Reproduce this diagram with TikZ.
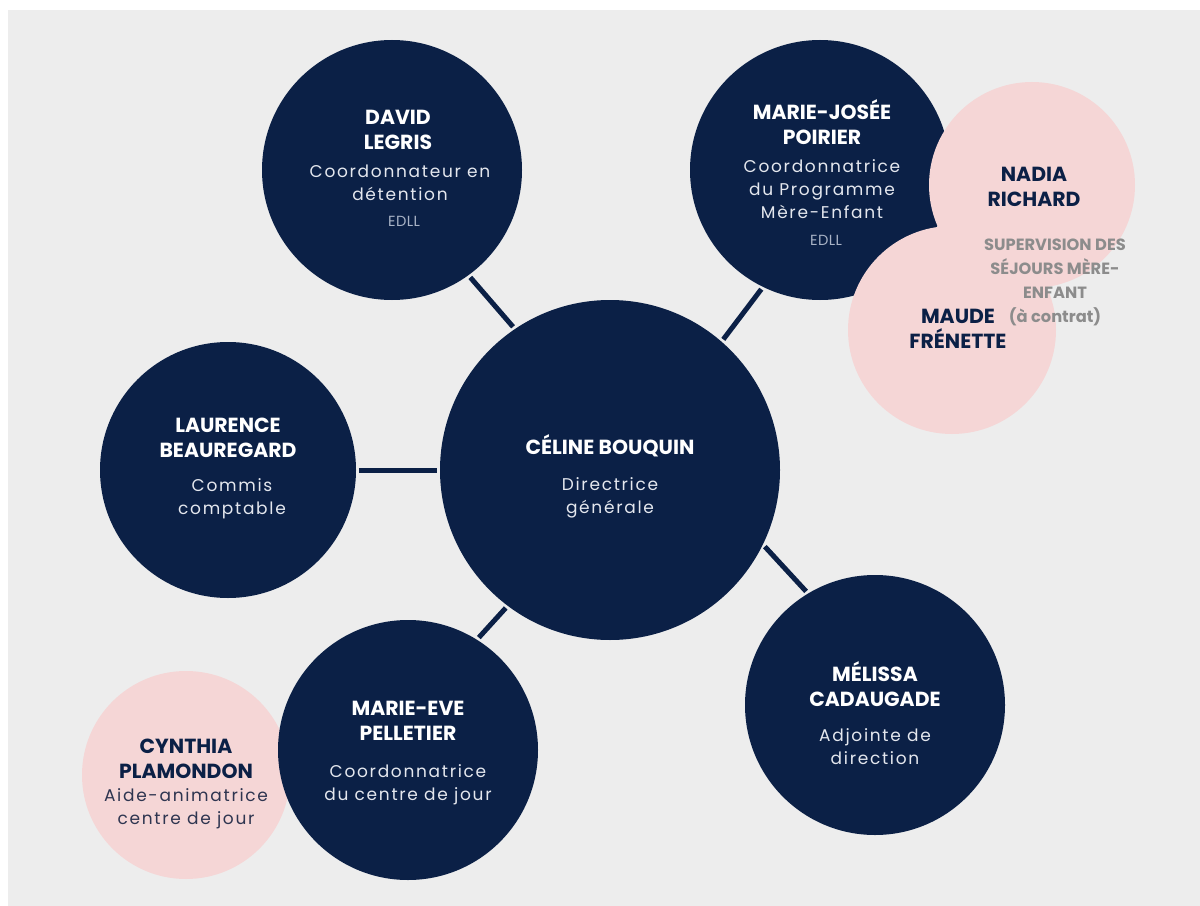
\documentclass[tikz,border=0pt]{standalone}
\usepackage{fontspec}
\setmainfont{Poppins}
\newfontfamily\rolefont[LetterSpace=10]{Poppins}
\newfontfamily\orgfont[LetterSpace=3]{Poppins}
\definecolor{navy}{HTML}{0B2046}
\definecolor{blush}{HTML}{F5D6D6}
\definecolor{paper}{HTML}{EDEDED}
\definecolor{roletext}{HTML}{E4E7EE}
\definecolor{orgtext}{HTML}{A9B3C6}
\definecolor{notegrey}{HTML}{8C8C8C}
\definecolor{pinkrole}{HTML}{2E3550}
\begin{document}
\begin{tikzpicture}[x=0.75pt,y=-0.75pt,
  navydisc/.style={circle,fill=navy,inner sep=0pt,minimum size=#1*1.5pt},
  pinkdisc/.style={circle,fill=blush,inner sep=0pt,minimum size=#1*1.5pt},
  namelight/.style={align=center,text=white,inner sep=0pt,font=\bfseries\fontsize{15.3}{18.75}\selectfont},
  namedark/.style={align=center,text=navy,inner sep=0pt,font=\bfseries\fontsize{15.3}{18.75}\selectfont},
  rolelight/.style={align=center,text=roletext,inner sep=0pt,font=\rolefont\fontsize{12.75}{17.25}\selectfont},
  roledark/.style={align=center,text=pinkrole,inner sep=0pt,font=\rolefont\fontsize{12.75}{17.25}\selectfont},
  org/.style={align=center,text=orgtext,inner sep=0pt,font=\orgfont\fontsize{11}{12}\selectfont},
  note/.style={align=center,text=notegrey,inner sep=0pt,font=\bfseries\fontsize{12.2}{18}\selectfont},
  link/.style={draw=navy,line width=3.75pt,shorten <=2pt,shorten >=2pt}]
\useasboundingbox (0,0) rectangle (1200,906);
\fill[white] (0,0) rectangle (1200,906);
\fill[paper] (8,10) rectangle (1200,906);

% discs
\node[navydisc=170] (ceo) at (610,470) {};
\node[navydisc=130] (david) at (392,170) {};
\node[navydisc=130] (mj) at (820,170) {};
\node[pinkdisc=103] (nadia) at (1032,185) {};
\node[pinkdisc=104] (maude) at (952,330) {};
\node[navydisc=128] (laur) at (228,470) {};
\node[pinkdisc=104] (cyn) at (186,775) {};
\node[navydisc=130] (me) at (408,750) {};
\node[navydisc=130] (mel) at (875,705) {};

% connectors
\draw[link] (david.-54.5) -- (ceo.124.7);
\draw[link] (mj.244.6) -- (ceo.49.9);
\draw[link] (laur.east) -- (ceo.west);
\draw[link] (me.58.6) -- (ceo.233.3);
\draw[link] (mel.121.8) -- (ceo.-26.7);

% texts
\node[namelight] (ceo-name) at (610,446) {CÉLINE BOUQUIN};
\node[rolelight] (ceo-role) at (610,498) {Directrice\\générale};

\node[namelight] (david-name) at (398,129.5) {DAVID\\LEGRIS};
\node[rolelight] (david-role) at (400,182.5) {Coordonnateur en\\détention};
\node[org] (david-org) at (404,221) {EDLL};

\node[namelight] (mj-name) at (822,122.5) {MARIE-JOSÉE\\POIRIER};
\node[rolelight] (mj-role) at (822,189) {Coordonnatrice\\du Programme\\Mère-Enfant};
\node[org] (mj-org) at (826,240) {EDLL};

\node[namedark] (nadia-name) at (1034,186.5) {NADIA\\RICHARD};
\node[namedark] (maude-name) at (958,328.5) {MAUDE\\FRÉNETTE};
\node[note] (sup-note) at (1055,282) {SUPERVISION DES\\SÉJOURS MÈRE-\\ENFANT\\(à contrat)};

\node[namelight] (laur-name) at (228,438) {LAURENCE\\BEAUREGARD};
\node[rolelight] (laur-role) at (232,498.5) {Commis\\comptable};

\node[namelight] (me-name) at (408,720.5) {MARIE-EVE\\PELLETIER};
\node[rolelight] (me-role) at (408,784.5) {Coordonnatrice\\du centre de jour};

\node[namedark] (cyn-name) at (186,758.5) {CYNTHIA\\PLAMONDON};
\node[roledark] (cyn-role) at (186,809) {Aide-animatrice\\centre de jour};

\node[namelight] (mel-name) at (875,684.5) {MÉLISSA\\CADAUGADE};
\node[rolelight] (mel-role) at (875,746.5) {Adjointe de\\direction};
\end{tikzpicture}
\end{document}
